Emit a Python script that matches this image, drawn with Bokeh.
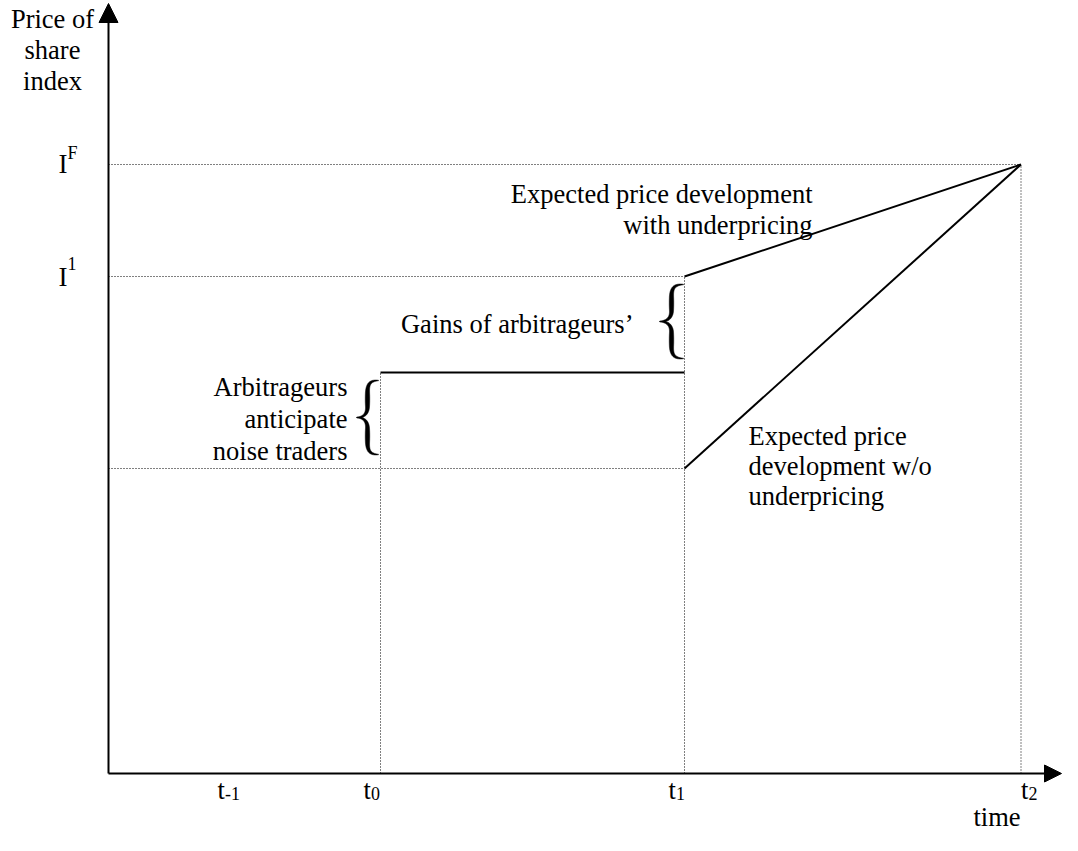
import numpy as np
from bokeh.plotting import figure
from bokeh.models import Range1d, Arrow, NormalHead
from bokeh.core.properties import value
from bokeh.embed import file_html
from bokeh.resources import INLINE

# ---------------- data (drawing units: 1 unit = 100 px) ----------------
time_labels = ["t", "t", "t", "t"]
time_subscripts = ["-1", "0", "1", "2"]
time_points = [1.24, 2.72, 5.76, 9.125]          # t-1, t0, t1, t2

level_labels = ["I", "I"]
level_superscripts = ["F", "1"]
level_values = [6.09, 4.97]                      # I^F, I^1

plateau_level = 4.01      # arbitrageurs' price between t0 and t1
base_level = 3.05         # price level without underpricing at t1

y_title_lines = ["Price of", "share", "index"]
x_title = "time"
with_lines = ["Expected price development", "with underpricing"]
without_lines = ["Expected price", "development w/o", "underpricing"]
gains_text = ["Gains of arbitrageurs\u2019"]
anticipate_lines = ["Arbitrageurs", "anticipate", "noise traders"]

t_m1, t0, t1, t2 = time_points
IF, I1 = level_values

# ---------------- layout / styles ----------------
FONT = value("Liberation Serif")
MAIN = "26.5px"
SMALL = "18px"
LINE = 0.31       # line spacing in units
TS = 0.10         # baseline correction for the renderer's text placement

p = figure(width=1062, height=835,
           x_range=Range1d(-1.08, 9.54), y_range=Range1d(-0.62, 7.73),
           output_backend="svg", toolbar_location=None, min_border=0,
           x_axis_location=None, y_axis_location=None,
           outline_line_color=None, background_fill_color="white",
           border_fill_color="white")
p.grid.visible = False


def put_text(xs, ys, texts, size=MAIN, align="left"):
    p.text(x=xs, y=[v + TS for v in ys], text=texts,
           text_font=FONT, text_font_size=size, text_align=align,
           text_baseline="alphabetic", text_color="black")


# dotted guide lines
p.segment(x0=[0, 0, 0], y0=[IF, I1, base_level],
          x1=[t2, t1, t1], y1=[IF, I1, base_level],
          line_color="black", line_width=1, line_dash="1 2")
p.segment(x0=[t0, t1, t2], y0=[0, 0, 0],
          x1=[t0, t1, t2], y1=[plateau_level, I1, IF],
          line_color="black", line_width=1, line_dash="1 2")

# solid price paths
p.segment(x0=[t0, t1, t1], y0=[plateau_level, I1, base_level],
          x1=[t1, t2, t2], y1=[plateau_level, IF, IF],
          line_color="black", line_width=2)

# axes with arrow heads
p.add_layout(Arrow(end=NormalHead(size=19, fill_color="black", line_color="black"),
                   x_start=0, y_start=0, x_end=0, y_end=7.70,
                   line_color="black", line_width=2))
p.add_layout(Arrow(end=NormalHead(size=17, fill_color="black", line_color="black"),
                   x_start=0, y_start=0, x_end=9.53, y_end=0,
                   line_color="black", line_width=2))


def brace(x_right, y_bot, y_top, width, thick):
    h = (y_top - y_bot) / 2.0
    ym = (y_bot + y_top) / 2.0
    xc = x_right - 0.5 * width
    xl = x_right - width

    def bez(p0, p1, p2, p3, n=40):
        t = np.linspace(0, 1, n)[:, None]
        p0, p1, p2, p3 = map(np.asarray, (p0, p1, p2, p3))
        return ((1 - t) ** 3) * p0 + 3 * ((1 - t) ** 2) * t * p1 + 3 * (1 - t) * t ** 2 * p2 + t ** 3 * p3

    s1 = bez([x_right, y_top], [xc + 0.1 * width, y_top], [xc, y_top - 0.1 * h], [xc, y_top - 0.35 * h])
    s2 = np.linspace([xc, y_top - 0.35 * h], [xc, y_top - 0.7 * h], 20)
    s3 = bez([xc, y_top - 0.7 * h], [xc, ym + 0.08 * h], [xc - 0.2 * width, ym], [xl, ym])
    top = np.vstack([s1, s2[1:], s3[1:]])
    bottom = top[::-1].copy()
    bottom[:, 1] = 2 * ym - bottom[:, 1]
    c = np.vstack([top, bottom[1:]])
    d = np.sqrt((np.diff(c, axis=0) ** 2).sum(1))
    s = np.concatenate([[0], np.cumsum(d)])
    s /= s[-1]
    th = thick * (0.12 + 0.88 * np.abs(np.sin(2 * np.pi * s)))
    g = np.gradient(c, axis=0)
    nrm = np.stack([-g[:, 1], g[:, 0]], axis=1)
    nrm /= np.linalg.norm(nrm, axis=1)[:, None]
    left = c + nrm * th[:, None] / 2
    right = c - nrm * th[:, None] / 2
    poly = np.vstack([left, right[::-1]])
    return poly[:, 0], poly[:, 1]


bx, by = brace(t0 - 0.02, base_level + 0.14, plateau_level - 0.08, 0.22, 0.045)
p.patch(bx, by, fill_color="black", line_color="black", line_width=0.5)
bx, by = brace(t1 - 0.01, plateau_level + 0.14, I1 - 0.08, 0.24, 0.045)
p.patch(bx, by, fill_color="black", line_color="black", line_width=0.5)

# y-axis title
put_text([-0.56] * 3, [7.45, 7.14, 6.83], y_title_lines, align="center")

# level labels (I with superscript)
put_text([-0.50] * 2, [IF - 0.09, I1 - 0.10], level_labels, size="27px")
put_text([-0.41] * 2, [IF + 0.02, I1 + 0.03], level_superscripts, size=SMALL)

# time tick labels (t with subscript)
tick_dx = [-0.15, -0.17, -0.16, 0.0]
tx = [tp + dx for tp, dx in zip(time_points, tick_dx)]
put_text(tx, [-0.26] * 4, time_labels)
put_text([v + 0.075 for v in tx], [-0.30] * 4, time_subscripts, size=SMALL)

# x-axis title (kept inside the canvas)
put_text([8.65], [-0.53], [x_title])

# annotations
put_text([7.04] * 2, [5.70, 5.70 - LINE], with_lines, align="right")
put_text([5.25], [4.40], gains_text, align="right")
put_text([2.39] * 3, [3.77, 3.77 - 0.32, 3.77 - 0.64], anticipate_lines, align="right")
put_text([6.40] * 3, [3.28, 3.28 - 0.30, 3.28 - 0.60], without_lines)

open("out.html", "w").write(file_html(p, INLINE))
